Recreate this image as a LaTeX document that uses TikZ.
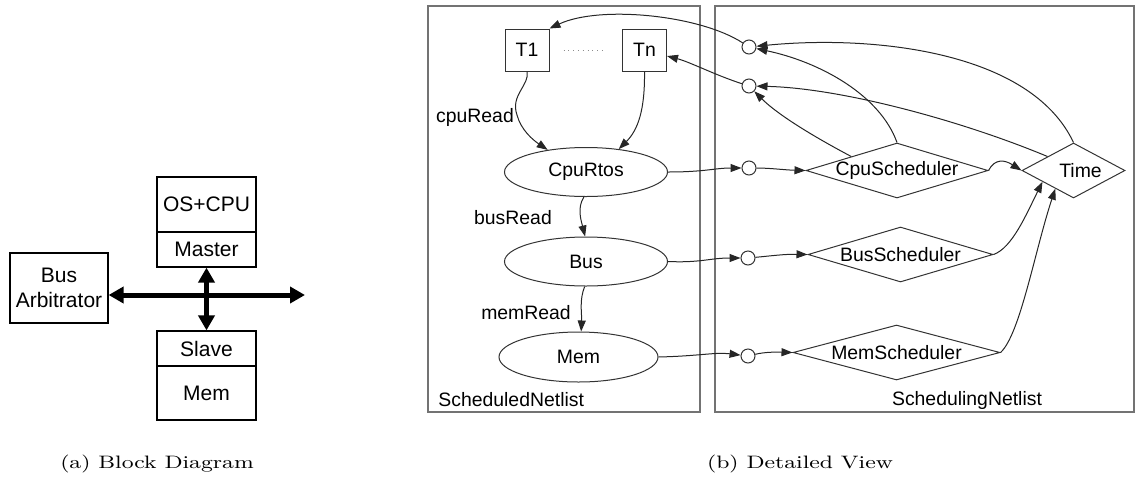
\documentclass[tikz,border=0pt]{standalone}
\usepackage{fontspec}
\newfontfamily\arial{Liberation Sans}
\usetikzlibrary{arrows.meta,shapes.geometric}

\tikzset{
  blk/.style={draw, line width=0.6pt, inner sep=0pt, font=\arial\fontsize{10.5}{12.5}\selectfont, minimum width=49.5pt},
  busline/.style={line width=2.5pt, {Triangle[length=7.5pt,width=8pt]}-{Triangle[length=7.5pt,width=8pt]}},
  panel/.style={draw=black!55, line width=0.7pt},
  lbl/.style={font=\arial\fontsize{9.7}{11}\selectfont, inner sep=0pt},
  task/.style={draw=black!80, line width=0.5pt, lbl, minimum width=22pt, minimum height=21pt},
  proc/.style={draw=black!80, line width=0.5pt, ellipse, lbl, minimum width=81.5pt, minimum height=24.5pt},
  sched/.style={draw=black!80, line width=0.5pt, diamond, lbl, minimum height=27.5pt},
  port/.style={draw=black!80, line width=0.5pt, circle, inner sep=0pt, minimum size=7pt},
  conn/.style={draw=black!85, line width=0.5pt, -{Triangle[length=5.5pt,width=4pt]}},
  dots/.style={draw=black!45, line width=0.4pt, dotted},
  capt/.style={font=\fontsize{9}{11}\selectfont, inner sep=0pt}
}

\begin{document}
\begin{tikzpicture}[x=0.5pt,y=-0.5pt]
\useasboundingbox (0,0) rectangle (1136,488);

% ---------- (a) block diagram ----------
\node[blk, minimum width=49pt, minimum height=35pt, align=center] (arb) at (59,288) {Bus\\Arbitrator};
\node[blk, minimum height=27.5pt] (oscpu) at (206.5,204.5) {OS+CPU};
\node[blk, minimum height=17.5pt] (master) at (206.5,249.5) {Master};
\node[blk, minimum height=17.5pt] (slave) at (206.5,348.5) {Slave};
\node[blk, minimum height=27pt] (mem) at (206.5,393) {Mem};
\coordinate (busend) at (305,295);
\draw[busline] (arb.east |- busend) -- (busend);
\draw[busline] (master.south) -- (slave.north);

% ---------- (b) detailed view: panels ----------
\draw[panel] (428,6) rectangle (700,412);
\draw[panel] (715,6) rectangle (1134,412);
\node[lbl, anchor=west] (scheduled) at (438,400) {ScheduledNetlist};
\node[lbl] (scheduling) at (967,400) {SchedulingNetlist};

% tasks and processes
\node[task] (T1) at (527,50) {T1};
\node[task] (Tn) at (644.5,50) {Tn};
\draw[dots] ([xshift=7pt]T1.east) -- ([xshift=-8pt]Tn.west);
\node[proc] (cpu) at (586,172) {CpuRtos};
\node[proc] (bus) at (586,261.5) {Bus};
\node[proc, minimum width=79.5pt, minimum height=25pt] (memp) at (578.5,357) {Mem};

\node[lbl] (lcpu) at (475,117) {cpuRead};
\node[lbl] (lbus) at (513,218) {busRead};
\node[lbl] (lmem) at (526,313) {memRead};

% ports
\node[port] (c1) at (749,47) {};
\node[port] (c2) at (749,86) {};
\node[port] (c3) at (749,168) {};
\node[port] (c4) at (748,258) {};
\node[port] (c5) at (748,356) {};

% schedulers
\node[sched, minimum width=91pt] (cpus) at (897,170.5) {\makebox[0pt]{CpuScheduler}};
\node[sched, minimum width=92.5pt] (buss) at (900.5,254.5) {\makebox[0pt]{BusScheduler}};
\node[sched, minimum width=103.5pt] (mems) at (896.5,352.5) {\makebox[0pt]{MemScheduler}};
\node[sched, minimum width=51.5pt] (time) at (1073.5,170.5) {\makebox[0pt]{\hspace*{7pt}Time}};

% scheduled netlist edges
\draw[conn] (T1.south) .. controls (530,85) and (510,95) .. (517,115)
            .. controls (521,130) and (533,140) .. (cpu.150);
\draw[conn] (Tn.south) .. controls (645,110) and (638,130) .. (cpu.35);
\draw[conn] (cpu.265) .. controls (577,208) and (581,220) .. (bus.92);
\draw[conn] (bus.267) .. controls (579,300) and (582,315) .. (memp.84);

% netlist to ports
\draw[conn] (cpu.east) .. controls (705,172) and (715,168) .. (c3);
\draw[conn] (bus.east) .. controls (700,263) and (710,258) .. (c4);
\draw[conn] (memp.east) .. controls (700,356) and (715,352) .. (c5);

% ports to schedulers
\draw[conn] (c3) .. controls (770,168) and (785,170) .. (cpus.west);
\draw[conn] (c4) .. controls (770,256) and (785,254) .. (buss.west);
\draw[conn] (c5) .. controls (765,352) and (775,352) .. (mems.west);

% schedulers to time
\draw[conn] (cpus.east) .. controls (995,158) and (1005,160) .. (time.west);
\draw[conn] (buss.east) .. controls (1012,248) and (1026,215) .. (time.-160);
\draw[conn] (mems.east) .. controls (1020,335) and (1035,250) .. (time.-135);

% schedulers and time back to task ports
\draw[conn] (cpus.north) .. controls (880,95) and (820,62) .. (c1);
\draw[conn] (cpus.north west) .. controls (805,132) and (775,112) .. (c2);
\draw[conn] (time.north) .. controls (1030,50) and (870,35) .. (c1);
\draw[conn] (time.north west) .. controls (960,120) and (840,88) .. (c2);

% ports to tasks
\draw[conn] (c1) .. controls (700,15) and (600,5) .. (T1.north east);
\draw[conn] (c2) .. controls (715,75) and (690,62) .. (Tn.-15);

% captions
\node[capt] (capa) at (157,464) {\scalebox{1.28}[1]{(a) Block Diagram}};
\node[capt] (capb) at (800,464) {\scalebox{1.28}[1]{(b) Detailed View}};
\end{tikzpicture}
\end{document}
